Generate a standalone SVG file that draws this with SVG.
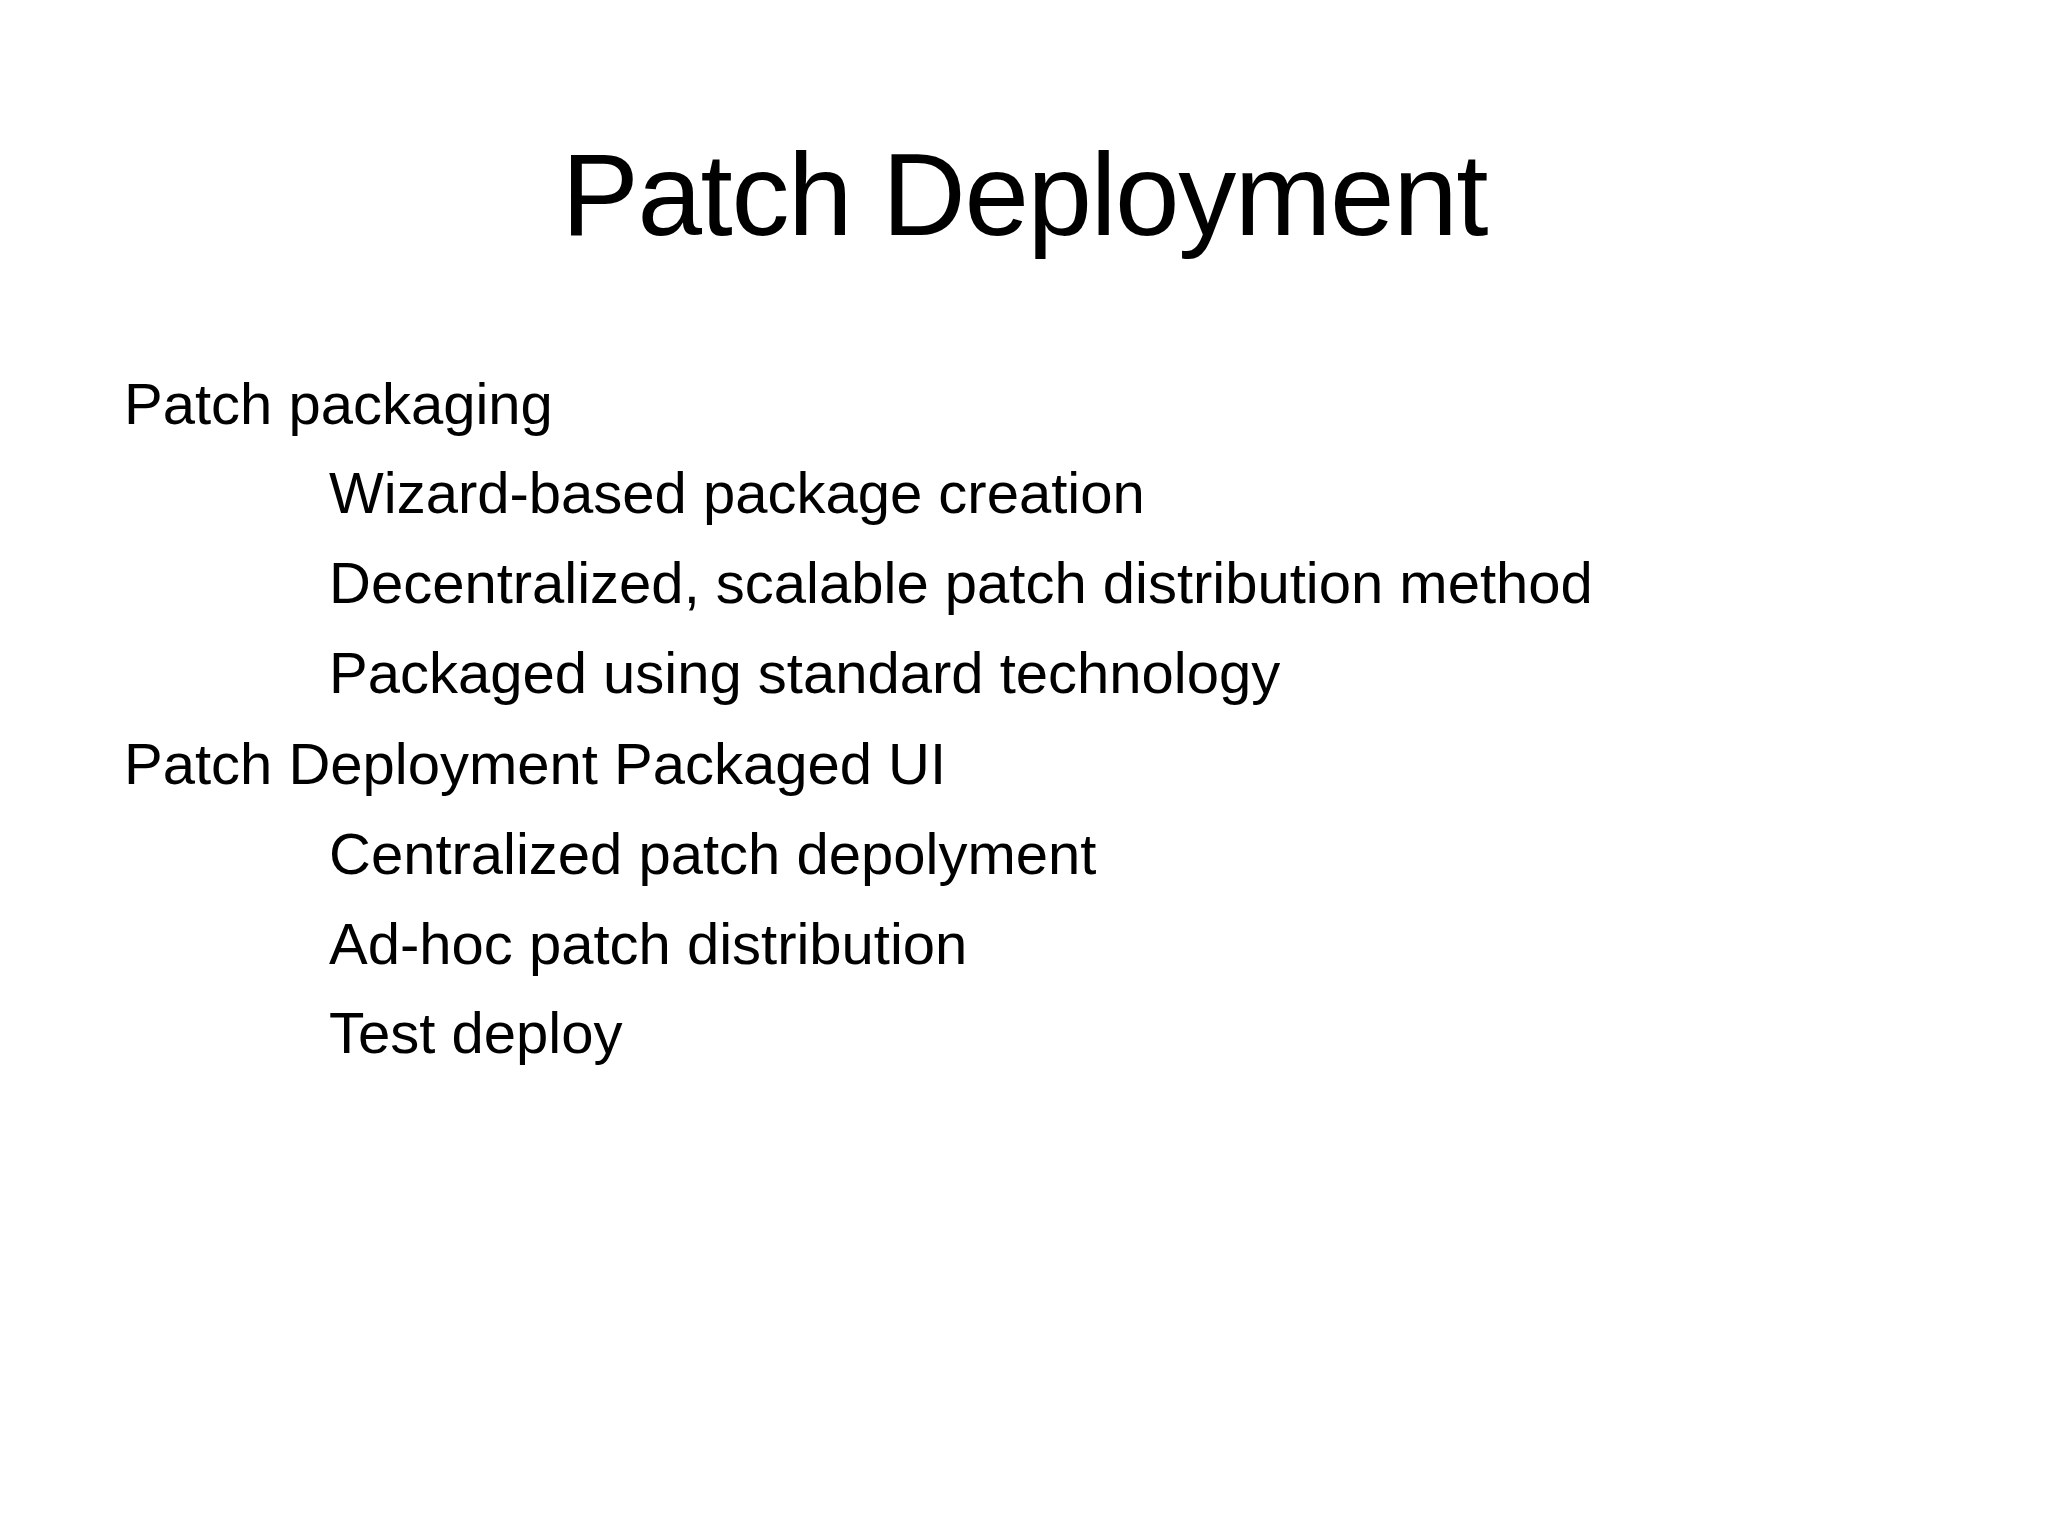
<svg xmlns="http://www.w3.org/2000/svg" width="2048" height="1536" viewBox="0 0 2048 1536">
<style>
text{font-family:"Liberation Sans",Arial,sans-serif;fill:#000}
.t{font-size:116px}
.b{font-size:58px}
</style>
<rect width="2048" height="1536" fill="#fff"/>
<text class="t" x="1025" y="235" text-anchor="middle" textLength="927">Patch Deployment</text>
<g class="b">
<text class="b" x="124" y="424">Patch packaging</text>
<text class="b" x="329" y="513">Wizard-based package creation</text>
<text class="b" x="329" y="603">Decentralized, scalable patch distribution method</text>
<text class="b" x="329" y="693">Packaged using standard technology</text>
<text class="b" x="124" y="784">Patch Deployment Packaged UI</text>
<text class="b" x="329" y="874">Centralized patch depolyment</text>
<text class="b" x="329" y="964">Ad-hoc patch distribution</text>
<text class="b" x="329" y="1053">Test deploy</text>
</g>
</svg>
